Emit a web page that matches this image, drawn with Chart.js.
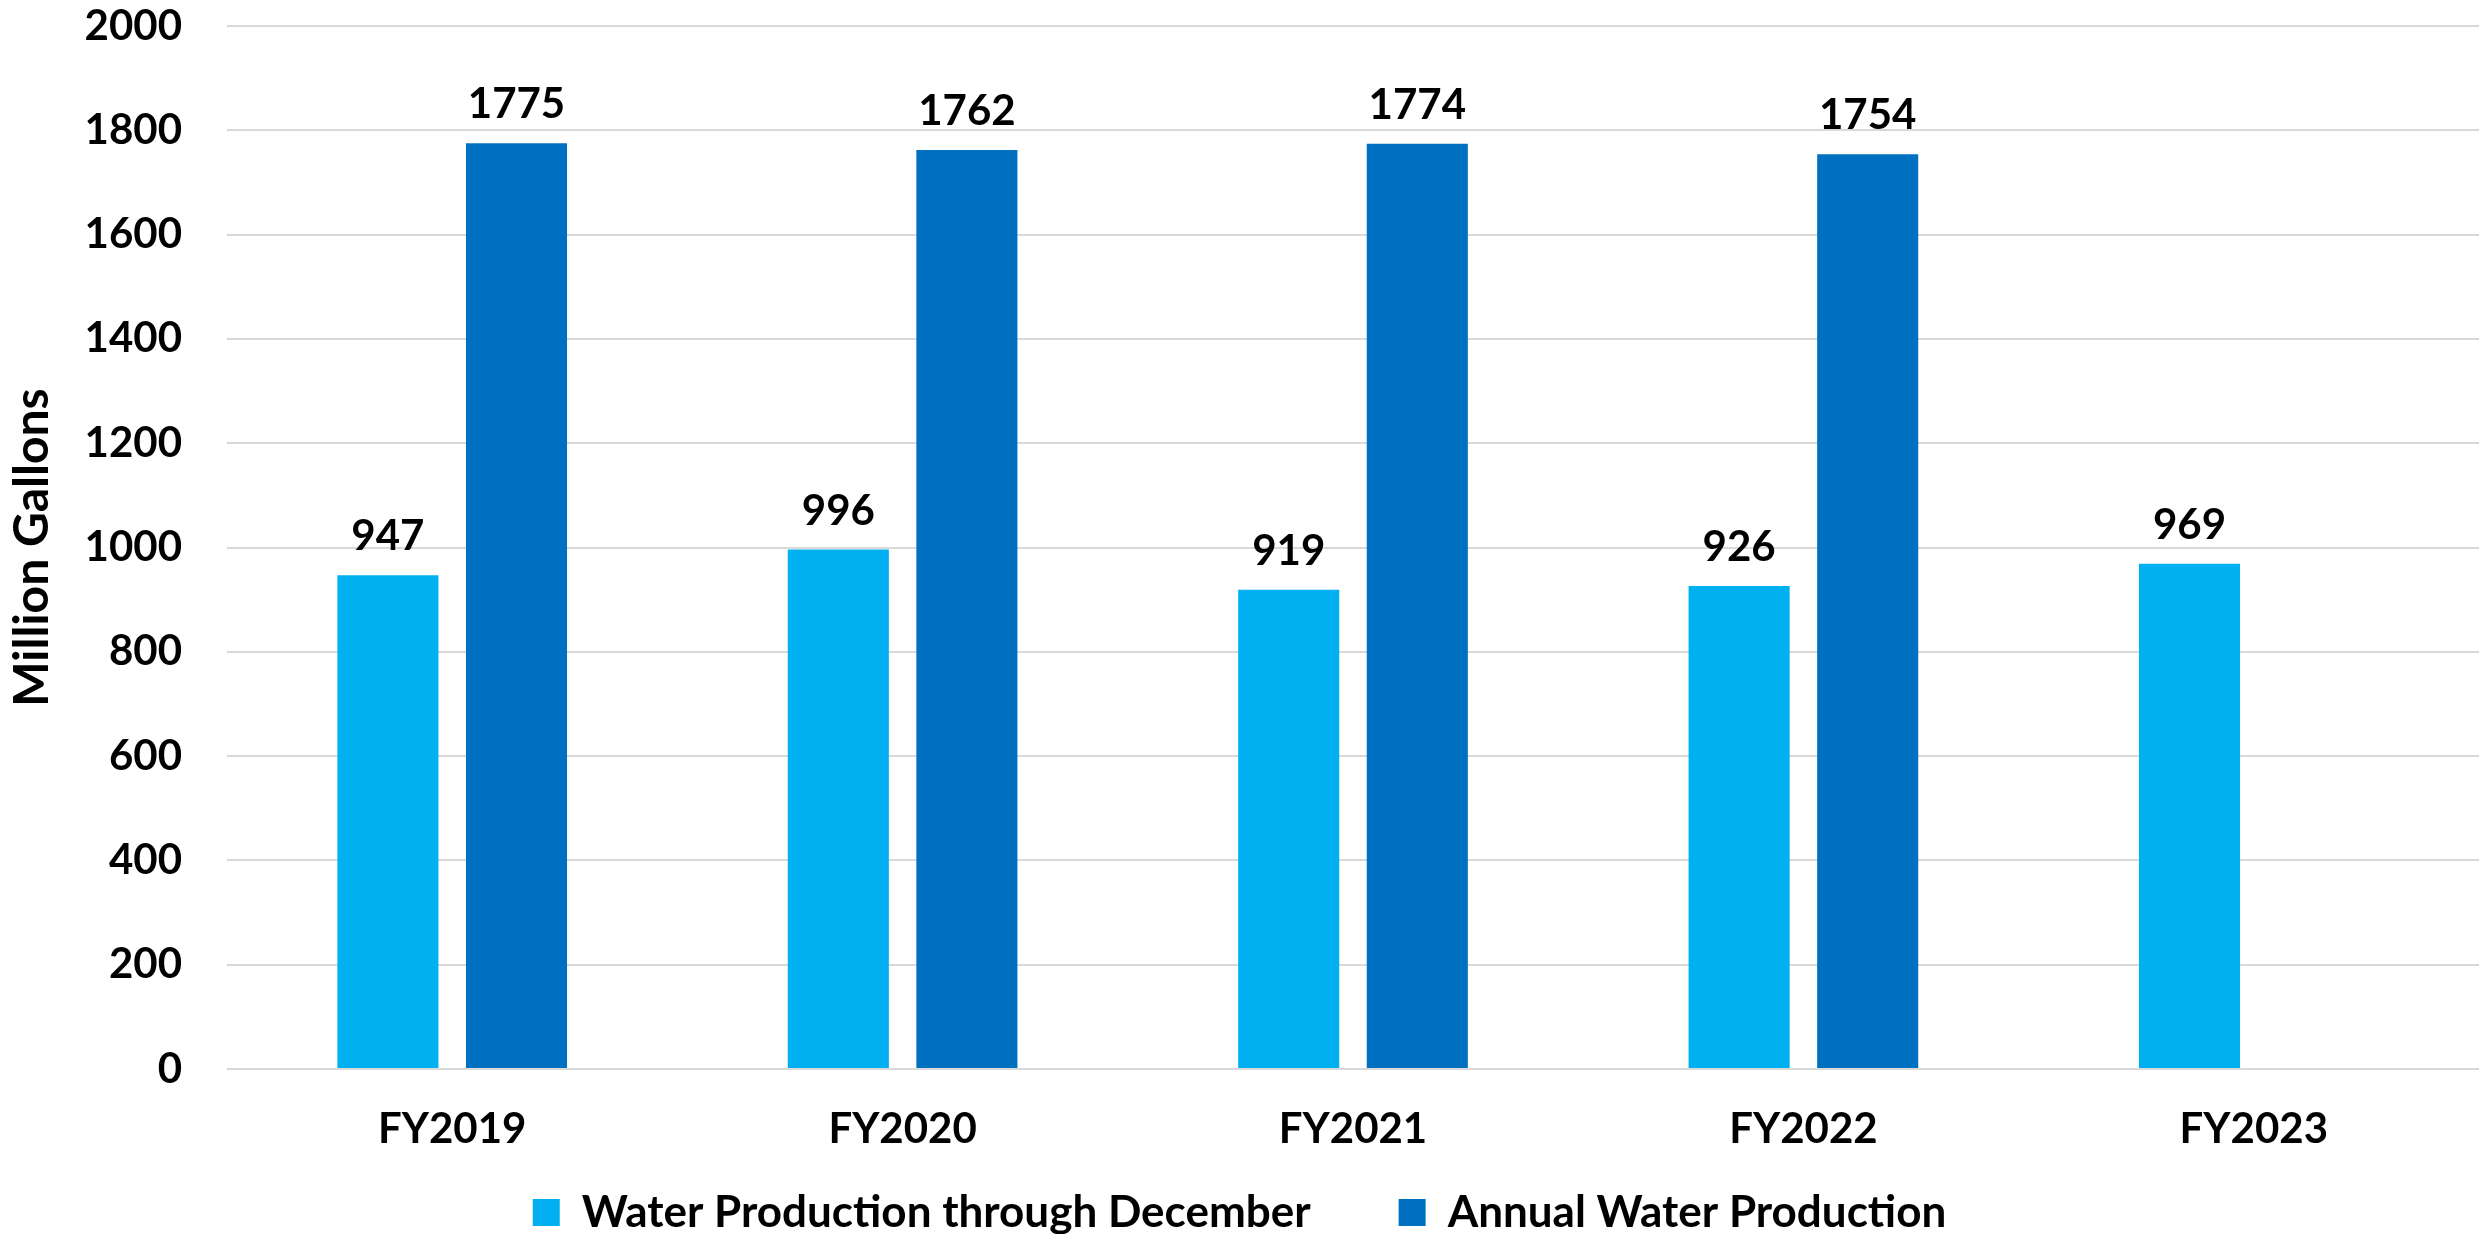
<!DOCTYPE html>
<html>
<head>
<meta charset="utf-8">
<script src="https://cdn.jsdelivr.net/npm/chart.js@4"></script>
<style>
  body { margin: 0; background: #fff; }
  #wrap { width: 2486px; height: 1234px; }
</style>
</head>
<body>
<div id="wrap"><canvas id="myChart"></canvas></div>
<script>
var years = ['FY2019', 'FY2020', 'FY2021', 'FY2022', 'FY2023'];
var throughDecember = [947, 996, 919, 926, 969];
var annualProduction = [1775, 1762, 1774, 1754, null];
var yTicks = [0, 200, 400, 600, 800, 1000, 1200, 1400, 1600, 1800, 2000];

var FONT = 'Lato, sans-serif';
var SIZE = 42;

// value labels above each bar
var barLabels = {
  id: 'barLabels',
  afterLayout: function (chart) {
    // let the category labels spill into the legend band instead of being clipped
    chart.scales.x.bottom = chart.height;
  },
  afterDatasetsDraw: function (chart) {
    var ctx = chart.ctx;
    ctx.save();
    ctx.font = 'bold ' + SIZE + 'px ' + FONT;
    ctx.fillStyle = '#000';
    ctx.textAlign = 'center';
    ctx.textBaseline = 'alphabetic';
    chart.data.datasets.forEach(function (ds, i) {
      var meta = chart.getDatasetMeta(i);
      meta.data.forEach(function (bar, j) {
        if (ds.data[j] == null) return;
        ctx.fillText(String(ds.data[j]), bar.x, bar.y - 25);
      });
    });
    ctx.restore();
  }
};

var ctx = document.getElementById('myChart').getContext('2d');
var chart = new Chart(ctx, {
  type: 'bar',
  data: {
    labels: years,
    datasets: [
      {
        label: 'Water Production through December',
        backgroundColor: '#00B0F0',
        data: throughDecember,
      },
      {
        label: 'Annual Water Production',
        backgroundColor: '#0070C0',
        data: annualProduction,
      },
    ],
  },
  plugins: [barLabels],
  options: {
    responsive: true,
    maintainAspectRatio: false,
    animation: false,
    devicePixelRatio: 1,
    layout: { padding: { left: 0, right: 7, top: 26, bottom: -10.5 } },
    categoryPercentage: 0.571,
    barPercentage: 0.786,
    plugins: {
      tooltip: { enabled: false },
      legend: {
        position: 'bottom',
        labels: {
          boxWidth: 27,
          boxHeight: 27,
          padding: 88,
          color: '#000',
          font: { family: FONT, size: 44, weight: 'bold' },
        },
      },
    },
    scales: {
      y: {
        min: 0,
        max: 2000,
        afterFit: function (scale) {
          scale.width = 227;
          scale.paddingTop = 0;
          scale.paddingBottom = 0;
        },
        afterBuildTicks: function (scale) {
          scale.ticks = yTicks.map(function (v) { return { value: v }; });
        },
        border: { display: false },
        grid: {
          display: true,
          color: '#D9D9D9',
          lineWidth: 2,
          drawTicks: false,
        },
        ticks: {
          padding: 45,
          color: '#000',
          font: { family: FONT, size: SIZE, weight: 'bold' },
          callback: function (v) { return String(v); },
        },
        title: {
          display: true,
          text: 'Million Gallons',
          color: '#000',
          padding: { top: 4, bottom: 0 },
          font: { family: FONT, size: 48, weight: 'bold' },
        },
      },
      x: {
        afterFit: function (scale) { scale.height = 33.5; },
        border: { display: false },
        grid: {
          display: false,
          drawTicks: false,
        },
        ticks: {
          padding: 35,
          color: '#000',
          font: { family: FONT, size: SIZE, weight: 'bold' },
        },
      },
    },
  },
});
</script>
</body>
</html>
